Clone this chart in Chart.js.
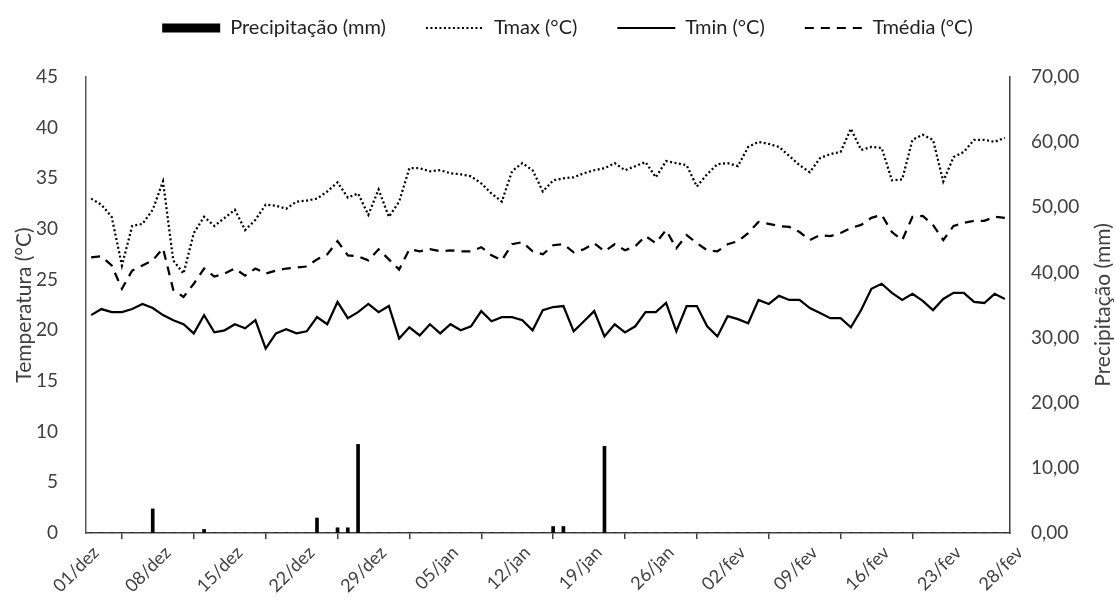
<!DOCTYPE html>
<html lang="pt">
<head>
<meta charset="utf-8">
<script src="https://cdn.jsdelivr.net/npm/chart.js@4.4.1/dist/chart.umd.min.js"></script>
<style>
  html, body { margin: 0; padding: 0; background: #fff; }
  #wrap { width: 1115px; height: 603px; }
</style>
</head>
<body>
<div id="wrap"><canvas id="grafico"></canvas></div>
<script>
// dias de 01/dez a 28/fev
const meses = [['dez', 31], ['jan', 31], ['fev', 28]];
const dias = [];
meses.forEach(([m, n]) => {
  for (let d = 1; d <= n; d++) dias.push(String(d).padStart(2, '0') + '/' + m);
});

// rótulos do eixo x (a cada 7 dias, mais o último dia)
const rotulosEixo = ['01/dez', '08/dez', '15/dez', '22/dez', '29/dez', '05/jan', '12/jan',
  '19/jan', '26/jan', '02/fev', '09/fev', '16/fev', '23/fev', '28/fev'];

const precipitacao = [
  0, 0, 0, 0, 0, 0, 3.7, 0, 0, 0, 0, 0.55, 0, 0, 0, 0, 0, 0, 0, 0,
  0, 0, 2.3, 0, 0.8, 0.8, 13.6, 0, 0, 0, 0, 0, 0, 0, 0, 0, 0, 0, 0, 0,
  0, 0, 0, 0, 0, 1.0, 1.0, 0, 0, 0, 13.3, 0, 0, 0, 0, 0, 0, 0, 0, 0,
  0, 0, 0, 0, 0, 0, 0, 0, 0, 0, 0, 0, 0, 0, 0, 0, 0, 0, 0, 0,
  0, 0, 0, 0, 0, 0, 0, 0, 0, 0
];

const tmax = [
  33.0, 32.4, 31.2, 26.4, 30.3, 30.5, 31.9, 34.7, 26.9, 25.6,
  29.6, 31.2, 30.3, 31.1, 31.9, 29.9, 30.9, 32.4, 32.3, 32.0,
  32.7, 32.8, 33.0, 33.7, 34.6, 33.1, 33.5, 31.4, 33.9, 31.2,
  32.7, 36.0, 36.0, 35.7, 35.8, 35.5, 35.4, 35.2, 34.5, 33.5,
  32.7, 35.7, 36.5, 35.8, 33.7, 34.8, 35.0, 35.1, 35.5, 35.8,
  36.0, 36.5, 35.8, 36.2, 36.6, 35.1, 36.7, 36.5, 36.3, 34.2,
  35.4, 36.4, 36.5, 36.2, 38.1, 38.6, 38.4, 38.1, 37.2, 36.3,
  35.6, 37.0, 37.4, 37.6, 39.9, 37.8, 38.1, 38.0, 34.8, 34.9,
  38.8, 39.3, 38.8, 34.7, 37.1, 37.6, 38.8, 38.8, 38.6, 39.0
];

const tmin = [
  21.5, 22.1, 21.8, 21.8, 22.1, 22.6, 22.2, 21.5, 21.0, 20.6,
  19.7, 21.5, 19.8, 20.0, 20.6, 20.2, 21.0, 18.2, 19.7, 20.1,
  19.7, 19.9, 21.3, 20.6, 22.8, 21.2, 21.8, 22.6, 21.8, 22.4,
  19.2, 20.3, 19.5, 20.6, 19.7, 20.6, 20.0, 20.4, 21.9, 20.9,
  21.3, 21.3, 21.0, 20.0, 22.0, 22.3, 22.4, 19.9, 20.9, 21.9,
  19.4, 20.6, 19.8, 20.4, 21.8, 21.8, 22.7, 19.9, 22.4, 22.4,
  20.4, 19.4, 21.4, 21.1, 20.7, 23.0, 22.6, 23.4, 23.0, 23.0,
  22.2, 21.7, 21.2, 21.2, 20.3, 22.0, 24.1, 24.6, 23.7, 23.0,
  23.6, 22.9, 22.0, 23.1, 23.7, 23.7, 22.8, 22.7, 23.6, 23.1
];

const tmedia = [
  27.2, 27.3, 26.4, 24.1, 25.9, 26.4, 26.9, 28.1, 24.0, 23.3,
  24.6, 26.1, 25.3, 25.6, 26.1, 25.4, 26.1, 25.6, 25.9, 26.1,
  26.2, 26.3, 27.0, 27.5, 28.8, 27.4, 27.3, 26.9, 28.0, 27.0,
  26.0, 28.0, 27.8, 28.0, 27.8, 27.9, 27.8, 27.8, 28.2, 27.4,
  26.9, 28.5, 28.7, 27.8, 27.5, 28.4, 28.5, 27.7, 28.0, 28.6,
  27.8, 28.5, 27.9, 28.3, 29.3, 28.6, 29.9, 28.1, 29.4, 28.6,
  27.9, 27.8, 28.5, 28.8, 29.6, 30.7, 30.5, 30.3, 30.2, 29.7,
  28.9, 29.4, 29.3, 29.6, 30.1, 30.4, 31.1, 31.4, 29.7, 28.9,
  31.2, 31.3, 30.4, 28.9, 30.3, 30.6, 30.8, 30.8, 31.2, 31.1
];

const fonte = 'Lato, "Open Sans", sans-serif';
const corEixo = '#404040';
const pontos = serie => serie.map((v, i) => ({ x: i, y: v }));

// espaço entre a legenda e a área do gráfico
const espacoLegenda = {
  id: 'espacoLegenda',
  beforeInit(chart) {
    const fitOriginal = chart.legend.fit;
    chart.legend.fit = function () {
      fitOriginal.call(this);
      this.height += 29;
    };
  }
};

// título do eixo da direita, lido de baixo para cima
const tituloDireita = {
  id: 'tituloDireita',
  afterDraw(chart) {
    const ctx = chart.ctx;
    ctx.save();
    ctx.translate(chart.width - 12, (chart.chartArea.top + chart.chartArea.bottom) / 2);
    ctx.rotate(-Math.PI / 2);
    ctx.font = '21px ' + fonte;
    ctx.fillStyle = corEixo;
    ctx.textAlign = 'center';
    ctx.textBaseline = 'middle';
    ctx.fillText('Precipitação (mm)', 0, 0);
    ctx.restore();
  }
};

new Chart(document.getElementById('grafico'), {
  type: 'bar',
  data: {
    datasets: [
      {
        label: 'Precipitação (mm)',
        data: pontos(precipitacao),
        yAxisID: 'y1',
        backgroundColor: '#000',
        borderWidth: 0,
        barThickness: 3
      },
      {
        type: 'line',
        label: 'Tmax (°C)',
        data: pontos(tmax),
        borderColor: '#000',
        borderWidth: 2.25,
        borderDash: [2, 2.5],
        pointRadius: 0,
        tension: 0
      },
      {
        type: 'line',
        label: 'Tmin (°C)',
        data: pontos(tmin),
        borderColor: '#000',
        borderWidth: 2.25,
        pointRadius: 0,
        tension: 0
      },
      {
        type: 'line',
        label: 'Tmédia (°C)',
        data: pontos(tmedia),
        borderColor: '#000',
        borderWidth: 2.25,
        borderDash: [9, 7],
        pointRadius: 0,
        tension: 0
      }
    ]
  },
  plugins: [espacoLegenda, tituloDireita],
  options: {
    responsive: true,
    maintainAspectRatio: false,
    animation: false,
    layout: { padding: { top: -22, left: 0, right: -20, bottom: 0 } },
    plugins: {
      tooltip: { enabled: false },
      legend: {
        position: 'top',
        labels: {
          color: '#222',
          font: { family: fonte, size: 20 },
          padding: 40,
          usePointStyle: true,
          pointStyleWidth: 58,
          boxHeight: 9,
          generateLabels(chart) {
            const itens = Chart.defaults.plugins.legend.labels.generateLabels(chart);
            itens.forEach(item => {
              const ds = chart.data.datasets[item.datasetIndex];
              const linha = ds.type === 'line';
              item.pointStyle = linha ? 'line' : 'rect';
              item.lineDash = linha ? (ds.borderDash || []) : [];
              item.lineWidth = linha ? 2 : 0;
              item.strokeStyle = '#000';
              item.fillStyle = '#000';
            });
            return itens;
          }
        }
      }
    },
    scales: {
      x: {
        type: 'linear',
        offset: false,
        min: -0.5,
        max: dias.length - 0.5,
        afterBuildTicks(scale) {
          scale.ticks = rotulosEixo.map((r, k) => ({
            value: k === rotulosEixo.length - 1 ? dias.length - 0.5 : dias.indexOf(r) - 0.5
          }));
        },
        afterFit(scale) { scale.height = 70; },
        ticks: {
          autoSkip: false,
          minRotation: 45,
          maxRotation: 45,
          padding: 3,
          labelOffset: 10,
          color: corEixo,
          font: { family: fonte, size: 18 },
          callback: (v, k) => rotulosEixo[k]
        },
        grid: {
          drawOnChartArea: false,
          drawTicks: true,
          tickLength: 6,
          lineWidth: 1.5,
          color: c => (c.tick && c.tick.value > dias.length - 1 ? 'rgba(0,0,0,0)' : corEixo)
        },
        border: { color: corEixo, width: 1.5 }
      },
      y: {
        position: 'left',
        min: 0,
        max: 45,
        afterFit(scale) { scale.width = 86; },
        ticks: {
          stepSize: 5,
          padding: 28,
          color: corEixo,
          font: { family: fonte, size: 19 }
        },
        grid: { drawOnChartArea: false, drawTicks: false },
        border: { color: '#595959', width: 1.5 },
        title: {
          display: true,
          text: 'Temperatura (°C)',
          color: corEixo,
          font: { family: fonte, size: 21 },
          padding: { top: 12, bottom: 0 }
        }
      },
      y1: {
        position: 'right',
        min: 0,
        max: 70,
        afterFit(scale) { scale.width = 125; },
        ticks: {
          stepSize: 10,
          padding: 21,
          color: corEixo,
          font: { family: fonte, size: 19 },
          callback: v => v.toFixed(2).replace('.', ',')
        },
        grid: { drawOnChartArea: false, drawTicks: false },
        border: { color: corEixo, width: 1.5 }
      }
    }
  }
});
</script>
</body>
</html>
